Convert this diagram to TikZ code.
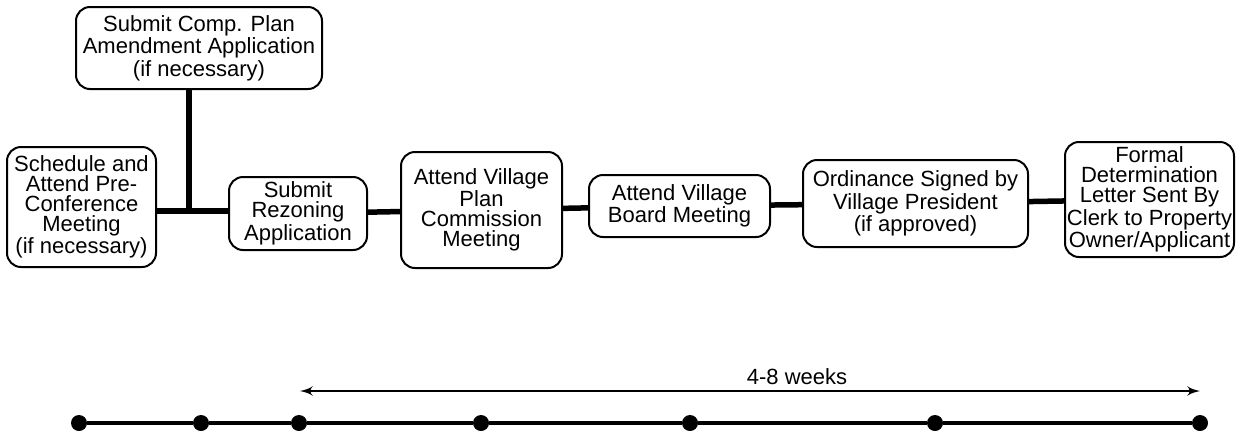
\documentclass[tikz,border=0pt]{standalone}
\usepackage{fontspec}
\setmainfont{Liberation Sans}
\usepackage{tikz}
\usetikzlibrary{arrows}

\begin{document}
\begin{tikzpicture}[x=0.5pt,y=-0.5pt,>=latex',
    stepbox/.style={draw,rounded corners=7pt,line width=1pt,align=center,inner sep=0pt,
      font=\fontsize{11}{10}\selectfont},
    link/.style={line width=2.75pt},
    tick/.style={circle,fill,inner sep=0pt,minimum size=8pt}]

  \useasboundingbox (0,0) rectangle (1236,430);

  % steps
  \node[stepbox,minimum width=123pt,minimum height=41pt]   (plan)  at (199,48)     {Submit Comp. Plan\\Amendment Application\\(if necessary)};
  \node[stepbox,minimum width=74.5pt,minimum height=60pt]  (sched) at (81.5,207)   {Schedule and\\Attend Pre-\\Conference\\Meeting\\(if necessary)};
  \node[stepbox,minimum width=69pt,minimum height=36.5pt]  (rez)   at (298,213.5)  {Submit\\Rezoning\\Application};
  \node[stepbox,minimum width=80.5pt,minimum height=58pt]  (comm)  at (481.5,210)  {Attend Village\\Plan\\Commission\\Meeting};
  \node[stepbox,minimum width=90.5pt,minimum height=31pt]  (board) at (679.5,206)  {Attend Village\\Board Meeting};
  \node[stepbox,minimum width=112.5pt,minimum height=43.5pt] (ord) at (915.5,203.5) {Ordinance Signed by\\Village President\\(if approved)};
  \node[stepbox,minimum width=84.5pt,minimum height=57.5pt] (formal) at (1149.5,199.5) {Formal\\Determination\\Letter Sent By\\Clerk to Property\\Owner/Applicant};

  \coordinate (join) at (189,211);

  \draw[link] (sched.east |- join) -- (rez.west |- join);
  \draw[link] (join |- plan.south) -- (join);
  \path[link] (rez) edge (comm)
              (comm) edge (board)
              (board) edge (ord)
              (ord) edge (formal);

  % time line
  \node[tick] (t1) at (79,423) {};
  \node[tick] (t2) at (201,423) {};
  \node[tick] (t3) at (299,423) {};
  \node[tick] (t4) at (481,423) {};
  \node[tick] (t5) at (690,423) {};
  \node[tick] (t6) at (935,423) {};
  \node[tick] (t7) at (1200,423) {};
  \draw[line width=2pt] (t1) -- (t2) -- (t3) -- (t4) -- (t5) -- (t6) -- (t7);

  \coordinate (from) at (300,391);
  \coordinate (to) at (1200,391);
  \draw[<->,line width=1.2pt] (from) -- (to);
  \node[font=\fontsize{11}{12}\selectfont] (span) at (797,377) {4-8 weeks};

\end{tikzpicture}
\end{document}
